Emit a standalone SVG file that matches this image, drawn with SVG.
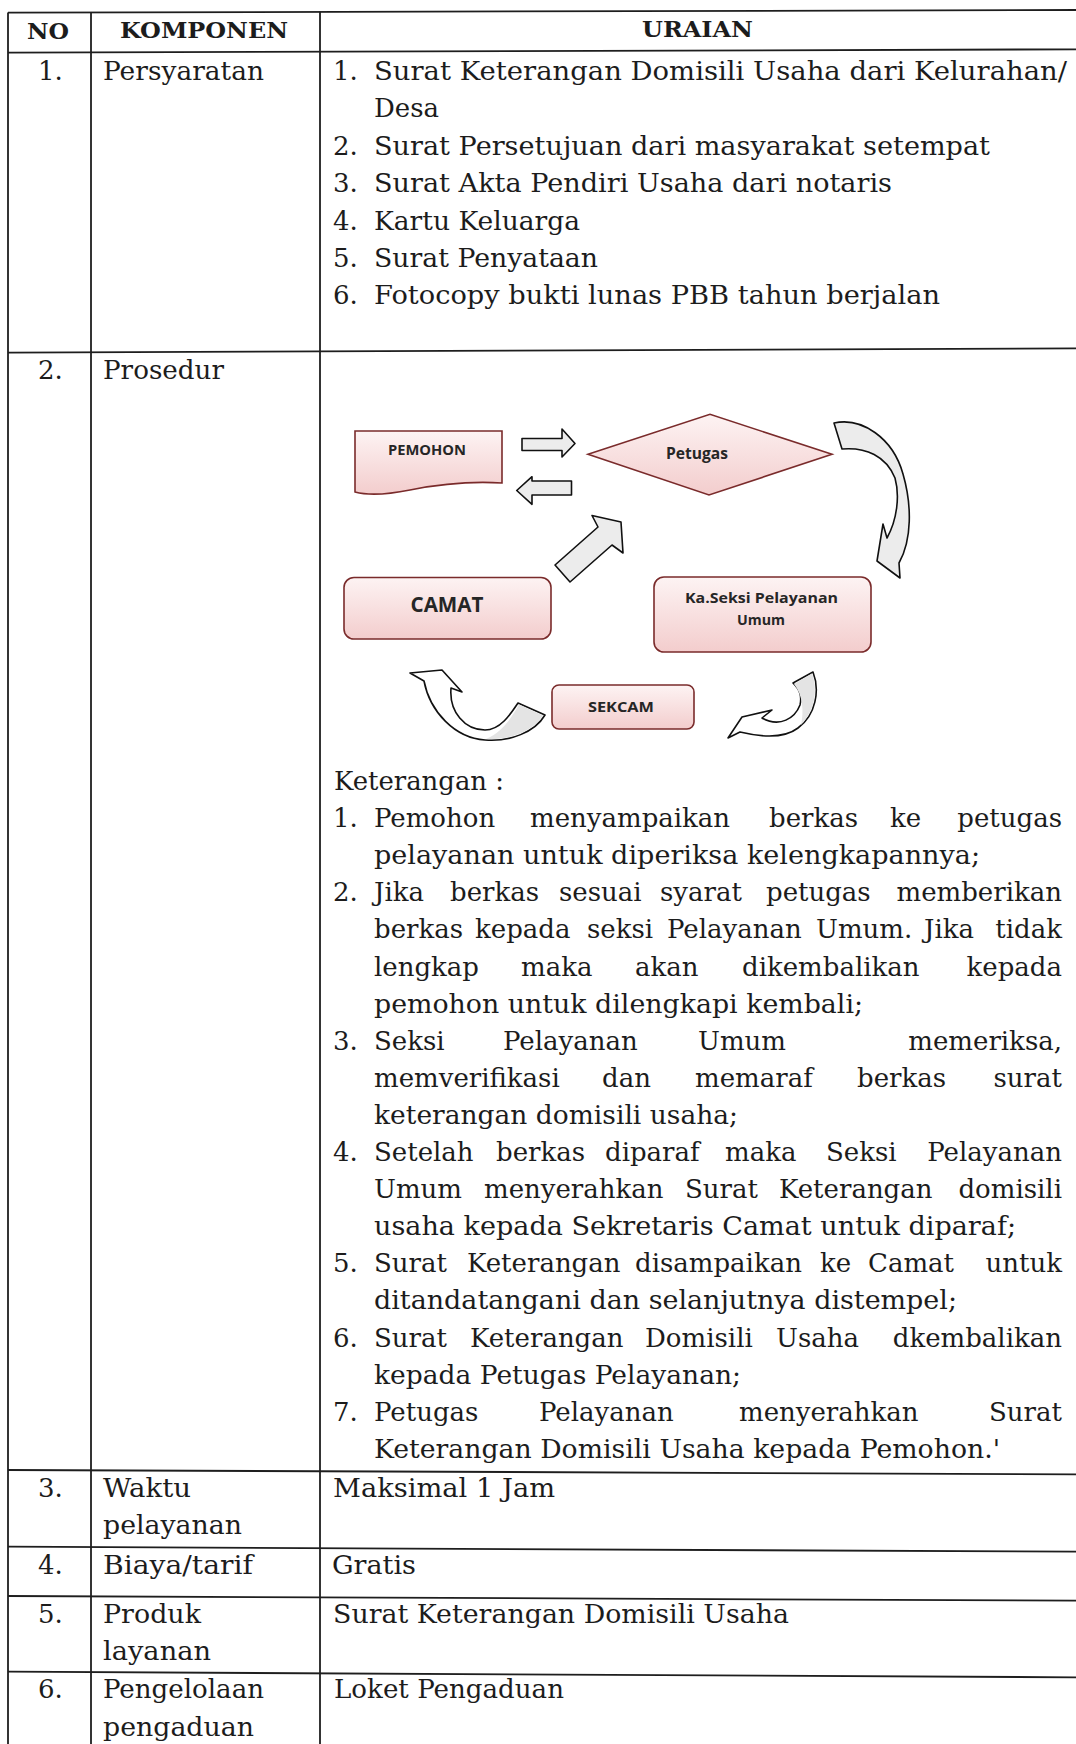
<svg xmlns="http://www.w3.org/2000/svg" width="1076" height="1744" viewBox="0 0 1076 1744">
<defs>
<linearGradient id="pink" x1="0" y1="0" x2="0" y2="1">
<stop offset="0" stop-color="#fdf3f3"/>
<stop offset="1" stop-color="#f3cdcd"/>
</linearGradient>
<style>
.t{font-family:"DejaVu Serif","Liberation Serif",serif;font-size:26px;fill:#1c1c1c}
.h{font-family:"DejaVu Serif","Liberation Serif",serif;font-size:22px;font-weight:bold;fill:#1c1c1c}
.d{font-family:"Open Sans","DejaVu Sans",sans-serif;font-weight:bold;fill:#262626}
.grid{stroke:#1e1e1e;stroke-width:1.8;fill:none}
.box{fill:url(#pink);stroke:#7a2b2b;stroke-width:1.6}
.arr{fill:#ececec;stroke:#111;stroke-width:1.6;stroke-linejoin:round}
.arrw{fill:#ffffff;stroke:#111;stroke-width:1.6;stroke-linejoin:round}
.gray{fill:#e4e4e4;stroke:none}
.e{text-anchor:end}
.m{text-anchor:middle}
</style>
</defs>
<rect width="1076" height="1744" fill="#ffffff"/>

<g id="table-grid">
<line class="grid" x1="8" y1="12.7" x2="1076" y2="10"/>
<line class="grid" x1="8" y1="52.7" x2="1076" y2="49.3"/>
<line class="grid" x1="8" y1="352.7" x2="1076" y2="348.3"/>
<line class="grid" x1="8" y1="1470" x2="1076" y2="1474.3"/>
<line class="grid" x1="8" y1="1546.7" x2="1076" y2="1551.7"/>
<line class="grid" x1="8" y1="1596" x2="1076" y2="1600.7"/>
<line class="grid" x1="8" y1="1671.7" x2="1076" y2="1677.3"/>
<line class="grid" x1="8" y1="12.5" x2="8" y2="1744"/>
<line class="grid" x1="91" y1="12.3" x2="91" y2="1744"/>
<line class="grid" x1="320" y1="11.7" x2="320" y2="1744"/>
</g>

<g id="header">
<text class="h m" x="48" y="38.5" textLength="42" lengthAdjust="spacingAndGlyphs">NO</text>
<text class="h m" x="204" y="38" textLength="168" lengthAdjust="spacingAndGlyphs">KOMPONEN</text>
<text class="h m" x="697.5" y="37" textLength="111" lengthAdjust="spacingAndGlyphs">URAIAN</text>
</g>

<g id="row-1">
<text class="t" x="38" y="80">1.</text>
<text class="t" x="103" y="80" textLength="161" lengthAdjust="spacingAndGlyphs">Persyaratan</text>
<text class="t" x="333" y="80">1.</text>
<text class="t" x="374" y="80" textLength="693" lengthAdjust="spacingAndGlyphs">Surat Keterangan Domisili Usaha dari Kelurahan/</text>
<text class="t" x="374" y="117.4" textLength="65" lengthAdjust="spacingAndGlyphs">Desa</text>
<text class="t" x="333" y="154.8">2.</text>
<text class="t" x="374" y="154.8" textLength="616" lengthAdjust="spacingAndGlyphs">Surat Persetujuan dari masyarakat setempat</text>
<text class="t" x="333" y="192.2">3.</text>
<text class="t" x="374" y="192.2" textLength="518" lengthAdjust="spacingAndGlyphs">Surat Akta Pendiri Usaha dari notaris</text>
<text class="t" x="333" y="229.6">4.</text>
<text class="t" x="374" y="229.6" textLength="206" lengthAdjust="spacingAndGlyphs">Kartu Keluarga</text>
<text class="t" x="333" y="267">5.</text>
<text class="t" x="374" y="267" textLength="224" lengthAdjust="spacingAndGlyphs">Surat Penyataan</text>
<text class="t" x="333" y="304.4">6.</text>
<text class="t" x="374" y="304.4" textLength="566" lengthAdjust="spacingAndGlyphs">Fotocopy bukti lunas PBB tahun berjalan</text>
</g>

<g id="row-2">
<text class="t" x="38" y="379.4">2.</text>
<text class="t" x="103" y="379.4" textLength="121" lengthAdjust="spacingAndGlyphs">Prosedur</text>
</g>

<g id="node-pemohon">
<path class="box" d="M355,431 H502 V483 C 470,481 440,484 410,490 C 390,494 370,496 355,492 Z"/>
<text class="d m" x="427" y="455" font-size="14" textLength="78" lengthAdjust="spacingAndGlyphs">PEMOHON</text>
</g>
<g id="node-petugas">
<polygon class="box" points="588,454.3 710,414.3 832,454.3 709,495"/>
<text class="d m" x="697" y="459" font-size="16" textLength="62" lengthAdjust="spacingAndGlyphs">Petugas</text>
</g>
<g id="node-camat">
<rect class="box" x="344" y="577.5" width="207" height="61.5" rx="10"/>
<text class="d m" x="447" y="611.5" font-size="21" textLength="73" lengthAdjust="spacingAndGlyphs">CAMAT</text>
</g>
<g id="node-kasi">
<rect class="box" x="654" y="577" width="217" height="75" rx="10"/>
<text class="d m" x="761.5" y="603.3" font-size="14.5" textLength="153" lengthAdjust="spacingAndGlyphs">Ka.Seksi Pelayanan</text>
<text class="d m" x="761" y="625" font-size="14.5" textLength="48" lengthAdjust="spacingAndGlyphs">Umum</text>
</g>
<g id="node-sekcam">
<rect class="box" x="552" y="685" width="142" height="44" rx="7"/>
<text class="d m" x="621" y="712.3" font-size="15" textLength="66" lengthAdjust="spacingAndGlyphs">SEKCAM</text>
</g>

<g id="connectors">
<polygon class="arr" points="522,438.5 562,438.5 562,429 575,443.5 562,457 562,450.5 522,450.5"/>
<polygon class="arr" points="571.5,481 532,481 532,476.7 516.7,490.5 532,504.3 532,495 571.5,495"/>
<polygon class="arr" points="555,565 598,527 592,515.5 621,522 623,553 612,545 570,582"/>
<path class="arr" d="M834,423 C 862,417 893,438 903,474 C 912,505 912,540 899,563 L 900,578 L 877,561 L 883,524 L 887,538 C 897,520 900,496 895,478 C 886,456 866,447 842,449 Z"/>
<path class="arrw" d="M813,672 C 820,690 816,715 798,728 C 785,738 765,738 740,732 L728,738 L742,717 L772,710 L762,718 C 780,728 795,718 800,705 C 802,696 800,690 793,683 Z"/>
<path class="gray" d="M794,684 L812,673.5 C 818,690 815,710 801,725 C 804,712 803,695 794,684 Z"/>
<path class="arrw" d="M410,673 L442,670 L462,692 L451,688 C 449,712 465,730 485,730 C 500,730 510,715 518,703 L545,715 C 535,732 510,742 485,740 C 455,738 430,712 424,681 Z"/>
<path class="gray" d="M519,704.5 L543,715.5 C 533,731 511,740 486,739 C 502,732 511,719 519,704.5 Z"/>
</g>

<g id="keterangan">
<text class="t" x="334" y="790" textLength="170" lengthAdjust="spacingAndGlyphs">Keterangan :</text>
<text class="t" y="827.1"><tspan x="333">1.</tspan><tspan x="374">Pemohon</tspan><tspan x="530">menyampaikan</tspan><tspan x="769">berkas</tspan><tspan x="890">ke</tspan></text>
<text class="t e" x="1062" y="827.1">petugas</text>
<text class="t" x="374" y="864.2" textLength="606" lengthAdjust="spacingAndGlyphs">pelayanan untuk diperiksa kelengkapannya;</text>
<text class="t" y="901.3"><tspan x="333">2.</tspan><tspan x="374">Jika</tspan><tspan x="450">berkas</tspan><tspan x="559">sesuai</tspan><tspan x="660">syarat</tspan><tspan x="766">petugas</tspan></text>
<text class="t e" x="1062" y="901.3">memberikan</text>
<text class="t" y="938.4"><tspan x="374">berkas</tspan><tspan x="475">kepada</tspan><tspan x="587">seksi</tspan><tspan x="667">Pelayanan</tspan><tspan x="816">Umum.</tspan><tspan x="924">Jika</tspan></text>
<text class="t e" x="1062" y="938.4">tidak</text>
<text class="t" y="975.5"><tspan x="374">lengkap</tspan><tspan x="521">maka</tspan><tspan x="635">akan</tspan><tspan x="742">dikembalikan</tspan></text>
<text class="t e" x="1062" y="975.5">kepada</text>
<text class="t" x="374" y="1012.6" textLength="489" lengthAdjust="spacingAndGlyphs">pemohon untuk dilengkapi kembali;</text>
<text class="t" y="1049.7"><tspan x="333">3.</tspan><tspan x="374">Seksi</tspan><tspan x="503">Pelayanan</tspan><tspan x="698">Umum</tspan></text>
<text class="t e" x="1062" y="1049.7">memeriksa,</text>
<text class="t" y="1086.8"><tspan x="374">memverifikasi</tspan><tspan x="602">dan</tspan><tspan x="695">memaraf</tspan><tspan x="857">berkas</tspan></text>
<text class="t e" x="1062" y="1086.8">surat</text>
<text class="t" x="374" y="1123.9" textLength="364" lengthAdjust="spacingAndGlyphs">keterangan domisili usaha;</text>
<text class="t" y="1161"><tspan x="333">4.</tspan><tspan x="374">Setelah</tspan><tspan x="496">berkas</tspan><tspan x="605">diparaf</tspan><tspan x="725">maka</tspan><tspan x="826">Seksi</tspan></text>
<text class="t e" x="1062" y="1161">Pelayanan</text>
<text class="t" y="1198.1"><tspan x="374">Umum</tspan><tspan x="484">menyerahkan</tspan><tspan x="685">Surat</tspan><tspan x="779">Keterangan</tspan></text>
<text class="t e" x="1062" y="1198.1">domisili</text>
<text class="t" x="374" y="1235.2" textLength="642" lengthAdjust="spacingAndGlyphs">usaha kepada Sekretaris Camat untuk diparaf;</text>
<text class="t" y="1272.3"><tspan x="333">5.</tspan><tspan x="374">Surat</tspan><tspan x="467">Keterangan</tspan><tspan x="635">disampaikan</tspan><tspan x="820">ke</tspan><tspan x="868">Camat</tspan></text>
<text class="t e" x="1062" y="1272.3">untuk</text>
<text class="t" x="374" y="1309.4" textLength="583" lengthAdjust="spacingAndGlyphs">ditandatangani dan selanjutnya distempel;</text>
<text class="t" y="1346.5"><tspan x="333">6.</tspan><tspan x="374">Surat</tspan><tspan x="470">Keterangan</tspan><tspan x="645">Domisili</tspan><tspan x="776">Usaha</tspan></text>
<text class="t e" x="1062" y="1346.5">dkembalikan</text>
<text class="t" x="374" y="1383.6" textLength="367" lengthAdjust="spacingAndGlyphs">kepada Petugas Pelayanan;</text>
<text class="t" y="1420.7"><tspan x="333">7.</tspan><tspan x="374">Petugas</tspan><tspan x="539">Pelayanan</tspan><tspan x="739">menyerahkan</tspan></text>
<text class="t e" x="1062" y="1420.7">Surat</text>
<text class="t" x="374" y="1457.8" textLength="626" lengthAdjust="spacingAndGlyphs">Keterangan Domisili Usaha kepada Pemohon.'</text>
</g>

<g id="row-3">
<text class="t" x="38" y="1497">3.</text>
<text class="t" x="103" y="1497" textLength="88" lengthAdjust="spacingAndGlyphs">Waktu</text>
<text class="t" x="103" y="1534" textLength="139" lengthAdjust="spacingAndGlyphs">pelayanan</text>
<text class="t" x="333" y="1497" textLength="222" lengthAdjust="spacingAndGlyphs">Maksimal 1 Jam</text>
</g>
<g id="row-4">
<text class="t" x="38" y="1573.5">4.</text>
<text class="t" x="103" y="1573.5" textLength="150" lengthAdjust="spacingAndGlyphs">Biaya/tarif</text>
<text class="t" x="332" y="1573.5" textLength="84" lengthAdjust="spacingAndGlyphs">Gratis</text>
</g>
<g id="row-5">
<text class="t" x="38" y="1623">5.</text>
<text class="t" x="103" y="1623" textLength="98" lengthAdjust="spacingAndGlyphs">Produk</text>
<text class="t" x="103" y="1660" textLength="108" lengthAdjust="spacingAndGlyphs">layanan</text>
<text class="t" x="333" y="1623" textLength="456" lengthAdjust="spacingAndGlyphs">Surat Keterangan Domisili Usaha</text>
</g>
<g id="row-6">
<text class="t" x="38" y="1698">6.</text>
<text class="t" x="103" y="1698" textLength="161" lengthAdjust="spacingAndGlyphs">Pengelolaan</text>
<text class="t" x="103" y="1736" textLength="151" lengthAdjust="spacingAndGlyphs">pengaduan</text>
<text class="t" x="334" y="1698" textLength="230" lengthAdjust="spacingAndGlyphs">Loket Pengaduan</text>
</g>
</svg>
